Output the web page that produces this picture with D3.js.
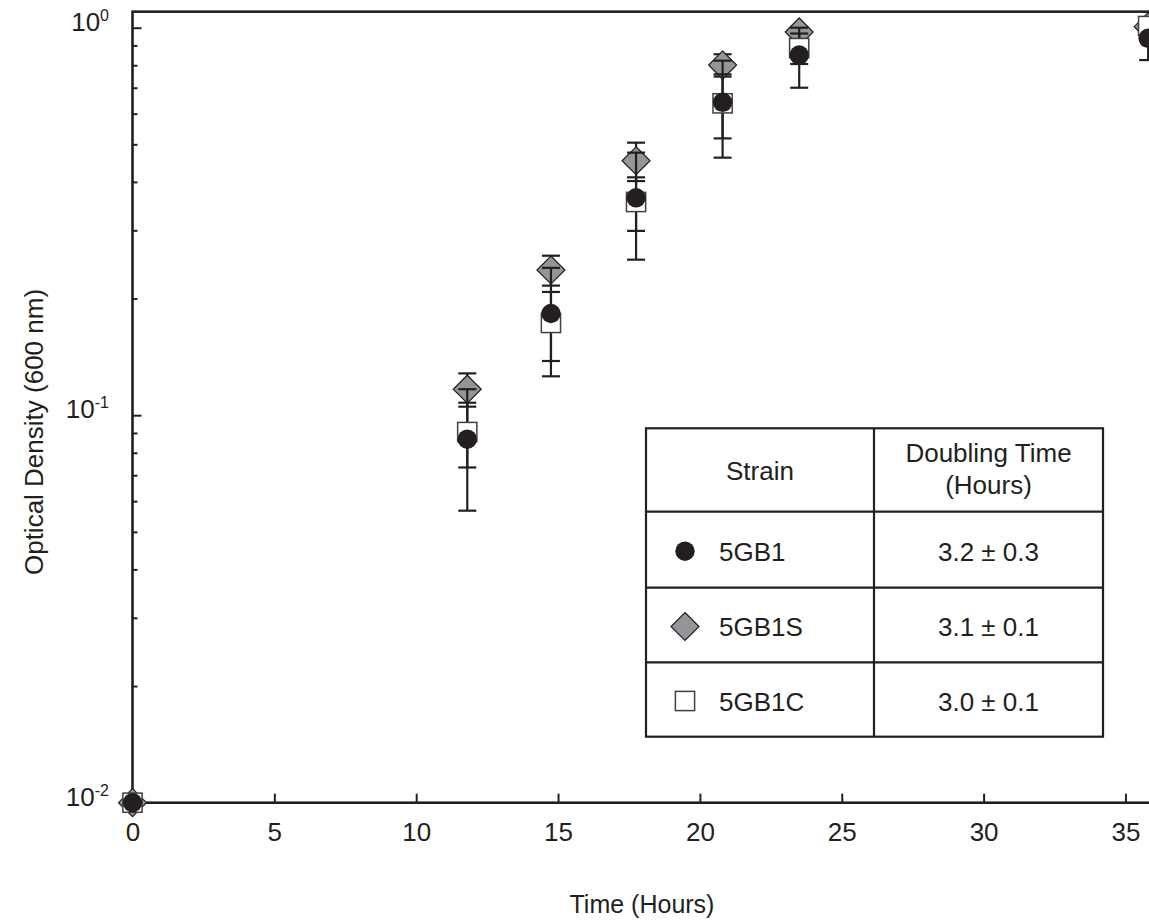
<!DOCTYPE html>
<html>
<head>
<meta charset="utf-8">
<script src="https://cdn.jsdelivr.net/npm/d3@7"></script>
<style>
  body { margin: 0; background: #fff; }
  svg { display: block; font-family: "Liberation Sans", Arial, sans-serif; }
</style>
</head>
<body>
<div id="chart"></div>
<script>
// sampling times (hours)
var times = [0, 11.8, 14.75, 17.75, 20.8, 23.5, 35.8];

// optical density per strain, with +/- error
var od5GB1 = [0.01, 0.0867, 0.183, 0.364, 0.642, 0.850, 0.939];
var err5GB1 = [0, 0.030, 0.057, 0.112, 0.18, 0.15, 0.114];
var od5GB1S = [0.01, 0.1167, 0.237, 0.4535, 0.801, 0.975, 1.006];
var err5GB1S = [0, 0.0115, 0.021, 0.0515, 0.053, 0.03, 0.03];
var od5GB1C = [0.01, 0.0905, 0.173, 0.355, 0.638, 0.886, 1.01];
var err5GB1C = [0, 0.0172, 0.035, 0.056, 0.12, 0.08, 0.05];

// axis ticks
var xTicks = [0, 5, 10, 15, 20, 25, 30, 35];
var yMajor = [0.01, 0.1, 1];
var yExp = ["-2", "-1", "0"];

// table contents
var strains = ["5GB1", "5GB1S", "5GB1C"];
var doubling = ["3.2 \u00b1 0.3", "3.1 \u00b1 0.1", "3.0 \u00b1 0.1"];

var W = 1149, H = 924, ink = "#231f20";

var svg = d3.select("#chart").append("svg")
    .attr("width", W).attr("height", H);

var x = d3.scaleLinear().domain([0, 40]).range([132.5, 132.5 + 40 * 28.37]);
var y = d3.scaleLog().domain([0.01, 1.1]).range([802.7, 11.66]);

// frame (right edge runs off the picture)
svg.append("rect")
    .attr("x", x(0)).attr("y", y(1.1))
    .attr("width", x(40) - x(0)).attr("height", y(0.01) - y(1.1))
    .attr("fill", "none").attr("stroke", ink).attr("stroke-width", 2.6);

// minor y ticks
var yMinor = [];
[0.01, 0.1].forEach(function (d) {
    for (var k = 2; k < 10; k++) yMinor.push(d * k);
});
var gyMinor = svg.append("g").attr("transform", "translate(" + x(0) + ",0)")
    .call(d3.axisLeft(y).tickValues(yMinor).tickSizeInner(-5).tickSizeOuter(0).tickFormat(""));
var gyMajor = svg.append("g").attr("transform", "translate(" + x(0) + ",0)")
    .call(d3.axisLeft(y).tickValues(yMajor).tickSizeInner(-9).tickSizeOuter(0).tickFormat(""));
[gyMinor, gyMajor].forEach(function (g) {
    g.select(".domain").remove();
    g.selectAll("line").attr("stroke", ink).attr("stroke-width", 2);
});

// y labels as 10^n
svg.append("g").selectAll("text").data(yMajor).enter().append("text")
    .attr("x", 109)
    .attr("y", function (d) { return y(d) + 3; })
    .attr("text-anchor", "end")
    .attr("font-size", 26)
    .attr("fill", ink)
    .each(function (d, i) {
        var t = d3.select(this);
        t.append("tspan").text("10");
        t.append("tspan").attr("font-size", 16).attr("dy", -10).text(yExp[i]);
    });

// x axis
var gx = svg.append("g").attr("transform", "translate(0," + y(0.01) + ")")
    .call(d3.axisBottom(x).tickValues(xTicks).tickSizeInner(-9).tickSizeOuter(0).tickPadding(20));
gx.select(".domain").remove();
gx.selectAll("line").attr("stroke", ink).attr("stroke-width", 2);
gx.selectAll("text").attr("font-size", 26).attr("fill", ink).attr("font-family", null);

// axis titles
svg.append("text")
    .attr("x", 642).attr("y", 913)
    .attr("text-anchor", "middle")
    .attr("font-size", 25).attr("fill", ink)
    .text("Time (Hours)");
svg.append("text")
    .attr("transform", "translate(43,432) rotate(-90)")
    .attr("text-anchor", "middle")
    .attr("font-size", 26).attr("fill", ink)
    .text("Optical Density (600 nm)");

// marker drawing helpers
function drawMarker(sel, type) {
    if (type === "circle") {
        sel.append("circle").attr("r", 9.7).attr("fill", ink);
    } else if (type === "diamond") {
        sel.append("path").attr("d", "M0,-14L14,0L0,14L-14,0Z")
            .attr("fill", "#939598").attr("stroke", ink).attr("stroke-width", 1.2);
    } else {
        sel.append("rect").attr("x", -9.6).attr("y", -9.6).attr("width", 19.2).attr("height", 19.2)
            .attr("fill", "#fff").attr("stroke", "#414042").attr("stroke-width", 1.5);
    }
}

function seriesData(od, err) {
    return times.map(function (t, i) { return { t: t, v: od[i], e: err[i] }; });
}

var series = {
    circle: seriesData(od5GB1, err5GB1),
    diamond: seriesData(od5GB1S, err5GB1S),
    square: seriesData(od5GB1C, err5GB1C)
};

function drawErrors(data) {
    var g = svg.append("g").attr("stroke", ink).attr("stroke-width", 2.2);
    data.filter(function (d) { return d.e > 0; }).forEach(function (d) {
        var cx = x(d.t), y1 = y(d.v + d.e), y2 = y(d.v - d.e);
        g.append("line").attr("x1", cx).attr("x2", cx).attr("y1", y1).attr("y2", y2);
        g.append("line").attr("x1", cx - 9).attr("x2", cx + 9).attr("y1", y1).attr("y2", y1);
        g.append("line").attr("x1", cx - 9).attr("x2", cx + 9).attr("y1", y2).attr("y2", y2);
    });
}

function drawMarkers(data, type) {
    svg.append("g").selectAll("g").data(data).enter().append("g")
        .attr("transform", function (d) { return "translate(" + x(d.t) + "," + y(d.v) + ")"; })
        .each(function () { drawMarker(d3.select(this), type); });
}

drawErrors(series.diamond);
drawMarkers(series.diamond, "diamond");
drawErrors(series.circle);
drawErrors(series.square);
drawMarkers(series.square, "square");
drawMarkers(series.circle, "circle");

// table legend
var tb = { x0: 646, x1: 874, x2: 1103, rows: [428.3, 511.7, 587.7, 662.3, 736.7] };
var table = svg.append("g");
table.append("rect")
    .attr("x", tb.x0).attr("y", tb.rows[0])
    .attr("width", tb.x2 - tb.x0).attr("height", tb.rows[4] - tb.rows[0])
    .attr("fill", "#fff").attr("stroke", ink).attr("stroke-width", 2.2);
table.append("line").attr("x1", tb.x1).attr("x2", tb.x1)
    .attr("y1", tb.rows[0]).attr("y2", tb.rows[4]).attr("stroke", ink).attr("stroke-width", 2.2);
tb.rows.slice(1, 4).forEach(function (ry) {
    table.append("line").attr("x1", tb.x0).attr("x2", tb.x2)
        .attr("y1", ry).attr("y2", ry).attr("stroke", ink).attr("stroke-width", 2.2);
});
var c1 = (tb.x0 + tb.x1) / 2, c2 = (tb.x1 + tb.x2) / 2;
table.append("text").attr("x", c1).attr("y", 480).attr("text-anchor", "middle")
    .attr("font-size", 26).attr("fill", ink).text("Strain");
table.append("text").attr("x", c2).attr("y", 462).attr("text-anchor", "middle")
    .attr("font-size", 26).attr("fill", ink).text("Doubling Time");
table.append("text").attr("x", c2).attr("y", 494).attr("text-anchor", "middle")
    .attr("font-size", 26).attr("fill", ink).text("(Hours)");

var markerTypes = ["circle", "diamond", "square"];
strains.forEach(function (s, i) {
    var cy = (tb.rows[i + 1] + tb.rows[i + 2]) / 2;
    var m = table.append("g").attr("transform", "translate(685," + (cy + 1.5) + ")");
    drawMarker(m, markerTypes[i]);
    table.append("text").attr("x", 719).attr("y", cy + 11)
        .attr("font-size", 26).attr("fill", ink).text(s);
    table.append("text").attr("x", c2).attr("y", cy + 11).attr("text-anchor", "middle")
        .attr("font-size", 26).attr("fill", ink).text(doubling[i]);
});
</script>
</body>
</html>
